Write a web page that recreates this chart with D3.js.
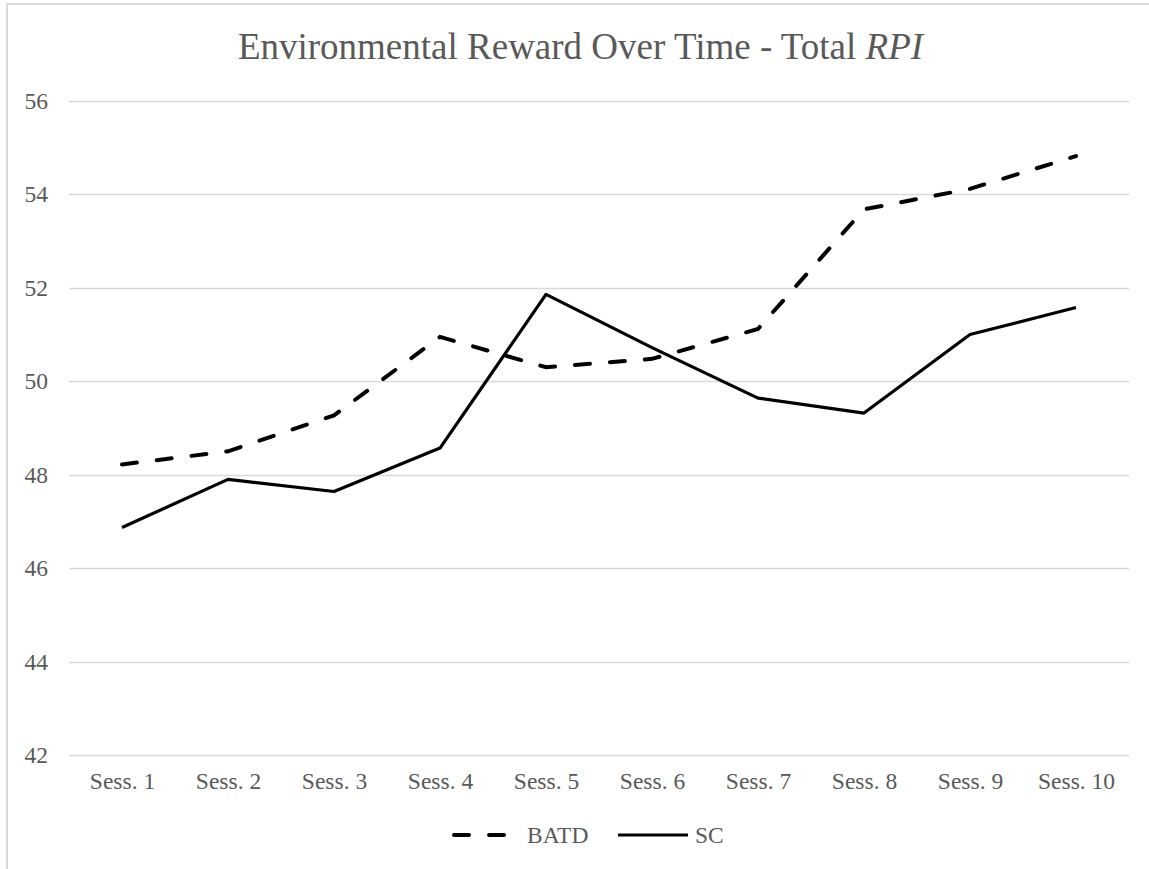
<!DOCTYPE html>
<html>
<head>
<meta charset="utf-8">
<script src="https://cdn.jsdelivr.net/npm/d3@7"></script>
<style>
  body { margin: 0; background: #fff; }
  svg { display: block; }
</style>
</head>
<body>
<svg id="chart" width="1149" height="869"></svg>
<script>
'use strict';

var sessions = ['Sess. 1', 'Sess. 2', 'Sess. 3', 'Sess. 4', 'Sess. 5',
                'Sess. 6', 'Sess. 7', 'Sess. 8', 'Sess. 9', 'Sess. 10']
var batdValues = [48.22, 48.5, 49.27, 50.95, 50.3, 50.48, 51.12, 53.68, 54.12, 54.82]
var scValues = [46.87, 47.9, 47.64, 48.57, 51.86, 50.72, 49.64, 49.32, 51.0, 51.58]
var yTicks = [42, 44, 46, 48, 50, 52, 54, 56]

var textColor = '#595959'
var gridColor = '#d9d9d9'
var serif = '"Liberation Serif", "Times New Roman", serif'
var labelSize = '23.5px'
var dashPattern = '15,20'

var svg = d3.select('#chart')

// outer frame (only top / left edges are visible in the picture)
svg.append('rect')
    .attr('x', 7).attr('y', 4)
    .attr('width', 1160).attr('height', 880)
    .attr('fill', 'none')
    .attr('stroke', gridColor)
    .attr('stroke-width', 2)

var margin = { left: 69, top: 101 }
var plotW = 1129 - margin.left
var plotH = 755 - margin.top

var g = svg.append('g')
    .attr('transform', 'translate(' + margin.left + ',' + margin.top + ')')

var x = d3.scalePoint()
    .domain(sessions)
    .range([0, plotW])
    .padding(0.5)

var y = d3.scaleLinear()
    .domain([42, 56])
    .range([plotH, 0])

// gridlines
g.append('g')
    .selectAll('line')
    .data(yTicks)
    .enter().append('line')
    .attr('x1', 0).attr('x2', plotW)
    .attr('y1', function(d) { return Math.round(y(d)) + 0.5 })
    .attr('y2', function(d) { return Math.round(y(d)) + 0.5 })
    .attr('stroke', gridColor)
    .attr('stroke-width', 1.5)

// y axis labels
var yAxis = g.append('g')
    .call(d3.axisLeft(y).tickValues(yTicks).tickSize(0).tickPadding(21))
yAxis.select('.domain').remove()
yAxis.selectAll('text')
    .attr('fill', textColor)
    .style('font-family', serif)
    .style('font-size', labelSize)

// x axis labels
var xAxis = g.append('g')
    .attr('transform', 'translate(0,' + plotH + ')')
    .call(d3.axisBottom(x).tickSize(0).tickPadding(17))
xAxis.select('.domain').remove()
xAxis.selectAll('text')
    .attr('fill', textColor)
    .style('font-family', serif)
    .style('font-size', labelSize)

var line = d3.line()
    .x(function(d, i) { return x(sessions[i]) })
    .y(function(d) { return y(d) })

g.append('path')
    .datum(scValues)
    .attr('d', line)
    .attr('fill', 'none')
    .attr('stroke', '#000')
    .attr('stroke-width', 3.2)
    .attr('stroke-linejoin', 'round')

g.append('path')
    .datum(batdValues)
    .attr('d', line)
    .attr('fill', 'none')
    .attr('stroke', '#000')
    .attr('stroke-width', 4)
    .attr('stroke-linecap', 'round')
    .attr('stroke-dasharray', dashPattern)

// title
var title = svg.append('text')
    .attr('x', 580.5).attr('y', 59)
    .attr('text-anchor', 'middle')
    .attr('fill', textColor)
    .style('font-family', serif)
    .style('font-size', '37px')
title.append('tspan').text('Environmental Reward Over Time - Total ')
title.append('tspan').style('font-style', 'italic').text('RPI')

// legend
var legend = svg.append('g').attr('transform', 'translate(0,835)')
legend.append('line')
    .attr('x1', 454).attr('x2', 506)
    .attr('y1', 0).attr('y2', 0)
    .attr('stroke', '#000')
    .attr('stroke-width', 4)
    .attr('stroke-linecap', 'round')
    .attr('stroke-dasharray', dashPattern)
legend.append('text')
    .attr('x', 527).attr('y', 8)
    .attr('fill', textColor)
    .style('font-family', serif)
    .style('font-size', labelSize)
    .text('BATD')
legend.append('line')
    .attr('x1', 618).attr('x2', 688)
    .attr('y1', 0).attr('y2', 0)
    .attr('stroke', '#000')
    .attr('stroke-width', 3.2)
legend.append('text')
    .attr('x', 695).attr('y', 8)
    .attr('fill', textColor)
    .style('font-family', serif)
    .style('font-size', labelSize)
    .text('SC')
</script>
</body>
</html>
